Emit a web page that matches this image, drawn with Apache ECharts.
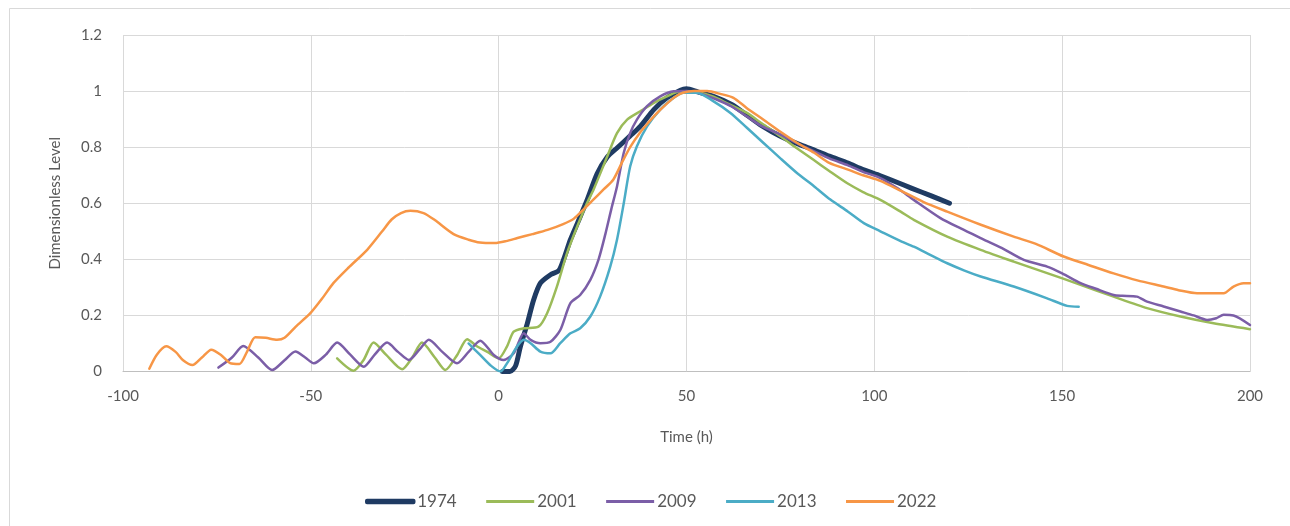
<!DOCTYPE html>
<html>
<head>
<meta charset="utf-8">
<script src="https://cdn.jsdelivr.net/npm/echarts@6/dist/echarts.min.js"></script>
<style>
html,body{margin:0;padding:0;background:#fff;}
#chart{width:1290px;height:526px;}
</style>
</head>
<body>
<div id="chart"></div>
<script>
// ---- data ----
const seriesNames = ['1974', '2001', '2009', '2013', '2022'];

const t1974 = [1, 3, 4.5, 5.8, 7.6, 9.3, 11.1, 13.8, 16, 17.3, 19.1, 21, 23.5, 26.2, 28.9, 31.5, 35, 37.7, 41.3, 44.8, 48.4, 50, 53, 57, 62, 66, 70, 75, 80, 84, 88, 93, 97, 101.6, 106, 110, 115, 120];
const v1974 = [0.0, 0.0, 0.02, 0.09, 0.17, 0.255, 0.315, 0.345, 0.36, 0.4, 0.47, 0.53, 0.61, 0.705, 0.765, 0.797, 0.84, 0.874, 0.934, 0.976, 1.003, 1.008, 0.997, 0.982, 0.952, 0.915, 0.877, 0.839, 0.81, 0.79, 0.768, 0.743, 0.72, 0.698, 0.675, 0.653, 0.627, 0.6];

const t2001 = [-43, -38.6, -36, -33.3, -30, -25.7, -23, -20.4, -17, -14.2, -11, -8.4, -5.7, -3, 0, 2.2, 4, 6.7, 10.6, 12.9, 15.5, 18.2, 20.9, 23.5, 25.3, 28.9, 31.5, 34.2, 37.7, 41.3, 44.8, 48.3, 52, 57.2, 61, 66.1, 70, 75, 79, 83.8, 88, 92.7, 97, 101.6, 107, 110.5, 119.4, 128.3, 137.1, 146, 154.9, 163.7, 172.6, 181.5, 190.3, 200];
const v2001 = [0.047, 0.003, 0.04, 0.103, 0.06, 0.008, 0.05, 0.103, 0.05, 0.005, 0.06, 0.115, 0.089, 0.07, 0.047, 0.089, 0.142, 0.154, 0.16, 0.208, 0.303, 0.422, 0.517, 0.6, 0.65, 0.767, 0.85, 0.898, 0.928, 0.958, 0.981, 0.999, 0.998, 0.98, 0.955, 0.922, 0.885, 0.839, 0.8, 0.755, 0.715, 0.672, 0.64, 0.612, 0.57, 0.541, 0.481, 0.434, 0.392, 0.351, 0.309, 0.267, 0.226, 0.196, 0.172, 0.151];

const t2009 = [-74.6, -71, -68, -64, -60.3, -57, -54.1, -51.5, -49.2, -46, -43, -39.5, -35.9, -33, -29.7, -26.8, -23.9, -21, -18.6, -15, -11.1, -8, -4.9, -1.3, 1.3, 4, 6.7, 8.5, 11.1, 13.8, 16.4, 19.1, 21.7, 24.4, 26.6, 28.4, 30, 31.5, 33.3, 35, 36.8, 39.5, 43, 46.6, 50, 54, 58, 62, 66, 70, 75, 80, 84, 88, 93, 97, 101.6, 106, 110.5, 117.6, 123, 128.3, 134, 139.8, 146, 150, 154.9, 159, 163.7, 166, 169.9, 172.6, 177, 181.5, 185, 188.6, 191, 193, 195.6, 200];
const v2009 = [0.014, 0.05, 0.091, 0.05, 0.005, 0.04, 0.071, 0.05, 0.029, 0.06, 0.103, 0.06, 0.017, 0.06, 0.103, 0.07, 0.041, 0.08, 0.113, 0.07, 0.029, 0.07, 0.11, 0.059, 0.041, 0.065, 0.136, 0.113, 0.101, 0.106, 0.148, 0.244, 0.273, 0.327, 0.4, 0.49, 0.58, 0.66, 0.78, 0.85, 0.898, 0.946, 0.981, 0.999, 1.0, 0.99, 0.97, 0.945, 0.91, 0.875, 0.845, 0.81, 0.785, 0.76, 0.735, 0.712, 0.69, 0.655, 0.612, 0.547, 0.51, 0.476, 0.44, 0.398, 0.374, 0.35, 0.315, 0.295, 0.273, 0.27, 0.267, 0.249, 0.232, 0.214, 0.2, 0.184, 0.19, 0.202, 0.2, 0.166];

const t2013 = [-8, -5, -2, 0.5, 2.2, 4.9, 6.7, 8.5, 11.1, 13.8, 16.4, 19.1, 21.7, 24.4, 27, 29.7, 31.5, 33.3, 35, 36.8, 39.5, 43, 46.6, 49.2, 52.8, 57, 61.7, 66, 70.5, 75, 79.4, 84, 88.3, 93, 97.2, 101.6, 107, 110.5, 115, 119.4, 124, 128.3, 137.1, 146, 151.3, 154.4];
const v2013 = [0.1, 0.06, 0.02, 0.0, 0.029, 0.089, 0.113, 0.101, 0.071, 0.065, 0.101, 0.136, 0.154, 0.196, 0.267, 0.374, 0.47, 0.6, 0.731, 0.803, 0.874, 0.934, 0.976, 0.994, 0.994, 0.965, 0.922, 0.87, 0.815, 0.76, 0.708, 0.66, 0.613, 0.57, 0.529, 0.5, 0.465, 0.445, 0.415, 0.386, 0.36, 0.339, 0.303, 0.261, 0.234, 0.231];

const t2022 = [-93, -91, -88.5, -86, -84, -81.5, -79, -76.5, -74, -71.5, -69, -67, -64.8, -62, -59, -57, -54, -50, -47, -44, -40, -35, -31, -28.5, -26, -23.5, -20, -17, -12, -8, -5, -1, 2, 5, 9, 13, 17, 20, 22, 25, 28, 30.5, 33, 35, 37.5, 40, 42, 45, 47, 49, 52, 55.5, 59, 62.5, 66, 70.5, 75, 79.5, 84, 88, 93, 97, 101.6, 107, 113, 119.4, 128, 137.1, 143, 150.4, 157, 163.7, 170, 177, 181, 185.9, 190, 193, 195.6, 198.3, 200];
const v2022 = [0.01, 0.06, 0.09, 0.07, 0.04, 0.023, 0.05, 0.078, 0.06, 0.03, 0.027, 0.07, 0.122, 0.12, 0.113, 0.12, 0.16, 0.21, 0.26, 0.315, 0.37, 0.434, 0.5, 0.542, 0.565, 0.573, 0.565, 0.54, 0.49, 0.47, 0.46, 0.458, 0.465, 0.476, 0.49, 0.505, 0.525, 0.545, 0.57, 0.61, 0.65, 0.684, 0.75, 0.8, 0.85, 0.89, 0.92, 0.958, 0.98, 0.994, 1.0, 1.0, 0.99, 0.976, 0.94, 0.898, 0.855, 0.815, 0.78, 0.744, 0.72, 0.7, 0.68, 0.645, 0.605, 0.57, 0.525, 0.481, 0.455, 0.41, 0.38, 0.35, 0.325, 0.303, 0.29, 0.279, 0.279, 0.279, 0.303, 0.315, 0.315];

const xTicks = [-100, -50, 0, 50, 100, 150, 200];
const yTicks = [0, 0.2, 0.4, 0.6, 0.8, 1, 1.2];

// ---- chart ----
const colors = ['#1f3b63', '#9bbb59', '#7b5ea7', '#4bacc6', '#f79646'];
const widths = [5, 2.5, 2.5, 2.5, 2.5];
const xs = [t1974, t2001, t2009, t2013, t2022];
const ys = [v1974, v2001, v2009, v2013, v2022];
const FONT = 'Lato, "Open Sans", sans-serif';

const series = seriesNames.map((name, i) => ({
  name: name,
  type: 'line',
  data: xs[i].map((t, j) => [t, ys[i][j]]),
  showSymbol: false,
  symbol: 'none',
  smooth: 0.25,
  z: 2 + i,
  lineStyle: { color: colors[i], width: widths[i], cap: 'round', join: 'round' },
  itemStyle: { color: colors[i] },
  emphasis: { disabled: true }
}));

const legendData = seriesNames.map((name, i) => ({
  name: name,
  icon: i === 0 ? 'roundRect' : 'rect',
  itemStyle: i === 0
    ? { color: colors[i], borderColor: colors[i], borderWidth: 2.5 }
    : { color: colors[i], borderWidth: 0 }
}));

const chart = echarts.init(document.getElementById('chart'), null, { renderer: 'canvas' });
chart.setOption({
  animation: false,
  backgroundColor: '#ffffff',
  color: colors,
  graphic: [{
    type: 'rect', silent: true, z: -10,
    shape: { x: 9.5, y: 8.5, width: 1300, height: 540 },
    style: { fill: 'none', stroke: '#d9d9d9', lineWidth: 1 }
  }],
  grid: { left: 123, right: 40, top: 35, bottom: 154.5, containLabel: false },
  legend: {
    data: legendData,
    left: 360,
    top: 488,
    itemWidth: 48,
    itemHeight: 3,
    itemGap: 29.5,
    textStyle: { color: '#595959', fontSize: 17, fontFamily: FONT, width: 43, padding: [0, 0, 0, -2] }
  },
  xAxis: {
    type: 'value',
    min: xTicks[0], max: xTicks[xTicks.length - 1], interval: 50,
    name: 'Time (h)', nameLocation: 'middle', nameGap: 58,
    nameTextStyle: { color: '#595959', fontSize: 15, fontFamily: FONT },
    axisLine: { show: true, onZero: false, lineStyle: { color: '#bfbfbf', width: 1 } },
    axisTick: { show: false },
    axisLabel: { color: '#595959', fontSize: 15, fontFamily: FONT, margin: 17 },
    splitLine: { show: true, lineStyle: { color: '#d9d9d9', width: 1 } }
  },
  yAxis: {
    type: 'value',
    min: yTicks[0], max: yTicks[yTicks.length - 1], interval: 0.2,
    name: 'Dimensionless Level', nameLocation: 'middle', nameGap: 60,
    nameTextStyle: { color: '#595959', fontSize: 15, fontFamily: FONT },
    axisLine: { show: false },
    axisTick: { show: false },
    axisLabel: { color: '#595959', fontSize: 15, fontFamily: FONT, margin: 21,
      formatter: v => String(Math.round(v * 10) / 10) },
    splitLine: { show: true, lineStyle: { color: '#d9d9d9', width: 1 } }
  },
  series: series
});
</script>
</body>
</html>
